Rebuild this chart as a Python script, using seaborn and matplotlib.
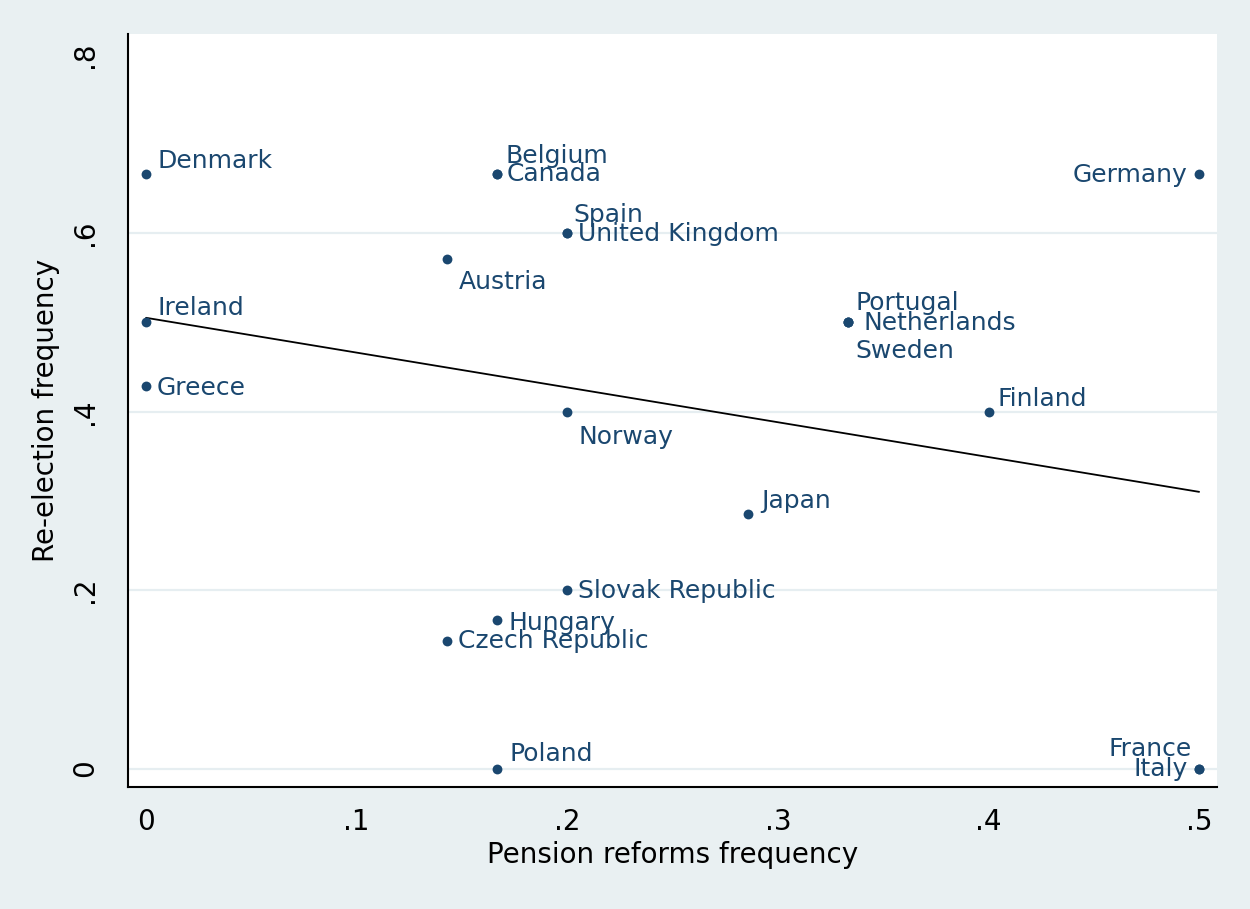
import pandas as pd
import seaborn as sns
import matplotlib.pyplot as plt

# values
countries = ['Denmark', 'Ireland', 'Greece', 'Austria', 'Belgium', 'Canada',
             'Spain', 'United Kingdom', 'Norway', 'Slovak Republic', 'Hungary',
             'Czech Republic', 'Poland', 'Japan', 'Portugal', 'Netherlands',
             'Sweden', 'Finland', 'Germany', 'France', 'Italy']
pension_freq = [0, 0, 0, 1/7, 1/6, 1/6,
                0.2, 0.2, 0.2, 0.2, 1/6,
                1/7, 1/6, 2/7, 1/3, 1/3,
                1/3, 0.4, 0.5, 0.5, 0.5]
reelection_freq = [2/3, 0.5, 3/7, 4/7, 2/3, 2/3,
                   0.6, 0.6, 0.4, 0.2, 1/6,
                   1/7, 0, 2/7, 0.5, 0.5,
                   0.5, 0.4, 2/3, 0, 0]

# fitted line as drawn in the reference
fit_x = [0, 0.5]
fit_y = [0.505, 0.310]

x_ticks = [0, 0.1, 0.2, 0.3, 0.4, 0.5]
x_tick_labels = ['0', '.1', '.2', '.3', '.4', '.5']
y_ticks = [0, 0.2, 0.4, 0.6, 0.8]
y_tick_labels = ['0', '.2', '.4', '.6', '.8']

# label placement (pixels from the marker, ha)
label_pos = {
    'Denmark': (11, 13, 'left'), 'Ireland': (11, 14, 'left'),
    'Greece': (11, -2, 'left'), 'Austria': (12, -23, 'left'),
    'Belgium': (8, 18, 'left'), 'Canada': (10, 0, 'left'),
    'Spain': (6, 18, 'left'), 'United Kingdom': (11, -1, 'left'),
    'Norway': (11, -25, 'left'), 'Slovak Republic': (11, -1, 'left'),
    'Hungary': (11, -3, 'left'), 'Czech Republic': (11, 0, 'left'),
    'Poland': (12, 15, 'left'), 'Japan': (13, 13, 'left'),
    'Portugal': (7, 19, 'left'), 'Netherlands': (15, -1, 'left'),
    'Sweden': (7, -29, 'left'), 'Finland': (9, 13, 'left'),
    'Germany': (-12, -1, 'right'), 'France': (-7, 20, 'right'),
    'Italy': (-11, 0, 'right'),
}

df = pd.DataFrame({'country': countries, 'pension': pension_freq,
                   'reelection': reelection_freq})

sns.set_theme(style='white')
plt.rcParams['font.family'] = ['DejaVu Sans']

bg = '#e9f0f2'
navy = '#1a476f'

fig = plt.figure(figsize=(12.5, 9.09), dpi=100, facecolor=bg)
ax = fig.add_axes([0.1024, 0.1342, 0.8712, 0.8284])
ax.set_facecolor('white')

for yt in y_ticks[:-1]:
    ax.axhline(yt, color='#e6eef1', lw=1.6, zorder=0)

sns.lineplot(x=fit_x, y=fit_y, ax=ax, color='black', lw=1.3, zorder=2)
sns.scatterplot(data=df, x='pension', y='reelection', ax=ax, color=navy,
                s=50, edgecolor=navy, linewidth=0, zorder=3)

for _, row in df.iterrows():
    dx, dy, ha = label_pos[row['country']]
    ax.annotate(row['country'], (row['pension'], row['reelection']),
                xytext=(dx, dy), textcoords='offset pixels', ha=ha,
                va='center', fontsize=18, color=navy, zorder=4)

ax.set_xlim(-0.0086, 0.5085)
ax.set_ylim(-0.0207, 0.823)
ax.set_xticks(x_ticks)
ax.set_xticklabels(x_tick_labels, fontsize=20, color='black')
ax.set_yticks(y_ticks)
ax.set_yticklabels(y_tick_labels, fontsize=20, rotation=90, va='center',
                   color='black')
ax.tick_params(axis='x', direction='out', length=9, width=1.5,
               color='black', pad=6)
ax.tick_params(axis='y', direction='out', length=9, width=1.5,
               color='black', pad=12)
ax.set_xlabel('Pension reforms frequency', fontsize=20, labelpad=4,
              color='black')
ax.set_ylabel('Re-election frequency', fontsize=20, labelpad=8,
              color='black')

for side in ['top', 'right']:
    ax.spines[side].set_visible(False)
for side in ['left', 'bottom']:
    ax.spines[side].set_color('black')
    ax.spines[side].set_linewidth(1.5)

fig.savefig('out.png', dpi=100, facecolor=bg)
